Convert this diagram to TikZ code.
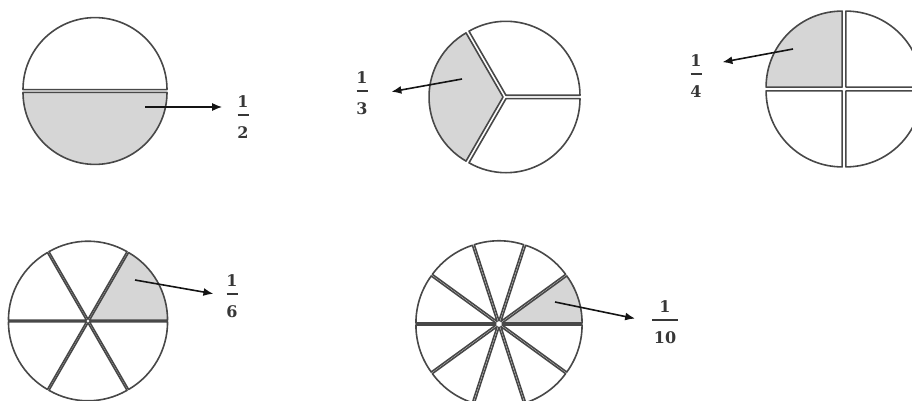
\documentclass[tikz,border=0pt]{standalone}
\usepackage{fontspec}
\usepackage{xcolor}
\usepackage{tikz}
\usetikzlibrary{arrows.meta,calc}
\newfontfamily\fracfont{DejaVu Serif}
\definecolor{rim}{HTML}{484848}
\definecolor{shade}{HTML}{D6D6D6}
\definecolor{ink}{HTML}{141414}

\tikzset{
  piece/.style={draw=rim, line width=1.6pt, fill=#1, line join=round},
  piece/.default=white,
  pointer/.style={draw=ink, line width=1.6pt, -{Latex[length=10pt,width=8pt]}},
  fraclabel/.style={text=ink!85, align=center, inner sep=0pt,
    font=\fracfont\fontsize{16}{15.25}\selectfont\bfseries}
}

% pie of #3 slices round #1, radius #2, gap #4, slice #5 grey
\newcommand{\fracpie}[5]{%
  \foreach \slice in {1,...,#3}{%
    \pgfmathsetmacro{\angA}{(\slice-1)*360/#3}%
    \pgfmathsetmacro{\angB}{\slice*360/#3}%
    \pgfmathsetmacro{\angM}{(\angA+\angB)/2}%
    \pgfmathsetmacro{\pushout}{#4/sin(180/#3)}%
    \ifnum\slice=#5 \def\piecefill{shade}\else\def\piecefill{white}\fi
    \draw[piece=\piecefill] ($(#1)+(\angM:\pushout)$) -- ++(\angA:#2)
      arc[start angle=\angA, end angle=\angB, radius=#2] -- cycle;
  }%
}
\newcommand{\fracstack}[3]{#1\\\rule[7.25pt]{#3}{2pt}\\#2}

\begin{document}
\begin{tikzpicture}[x=1pt, y=-1pt]
  \useasboundingbox (0,0) rectangle (912,401);

  % pie centres
  \coordinate (halfc) at (95,91);
  \coordinate (thirdc) at (505,97);
  \coordinate (quarterc) at (844,89);
  \coordinate (sixthc) at (88,321);
  \coordinate (tenthc) at (499,324);

  \fracpie{halfc}{72}{2}{1.4}{1}
  \fracpie{thirdc}{74}{3}{1.7}{2}
  \fracpie{quarterc}{76}{4}{1.9}{3}
  \fracpie{sixthc}{78}{6}{0.9}{6}
  \fracpie{tenthc}{80}{10}{1.0}{10}

  % labels
  \node[fraclabel] (half) at (243,117) {\fracstack{1}{2}{11pt}};
  \node[fraclabel] (third) at (362,93) {\fracstack{1}{3}{11pt}};
  \node[fraclabel] (quarter) at (696,76) {\fracstack{1}{4}{11pt}};
  \node[fraclabel] (sixth) at (232,296) {\fracstack{1}{6}{11pt}};
  \node[fraclabel] (tenth) at (665,322) {\fracstack{1}{10}{26pt}};

  % arrows out of the grey slices
  \coordinate (halfin) at (145,107);
  \coordinate (thirdin) at (462,79);
  \coordinate (quarterin) at (793,49);
  \coordinate (sixthin) at (135,280);
  \coordinate (tenthin) at (555,302);

  \draw[pointer, shorten >=15pt] (halfin) -- (half.west |- halfin);
  \draw[pointer, shorten >=24pt] (thirdin) -- ([yshift=-3pt]third.east);
  \draw[pointer, shorten >=21pt] (quarterin) -- ([yshift=10pt]quarter.east);
  \draw[pointer, shorten >=13pt] (sixthin) -- (sixth.west);
  \draw[pointer, shorten >=17pt] (tenthin) -- (tenth.west);
\end{tikzpicture}
\end{document}
